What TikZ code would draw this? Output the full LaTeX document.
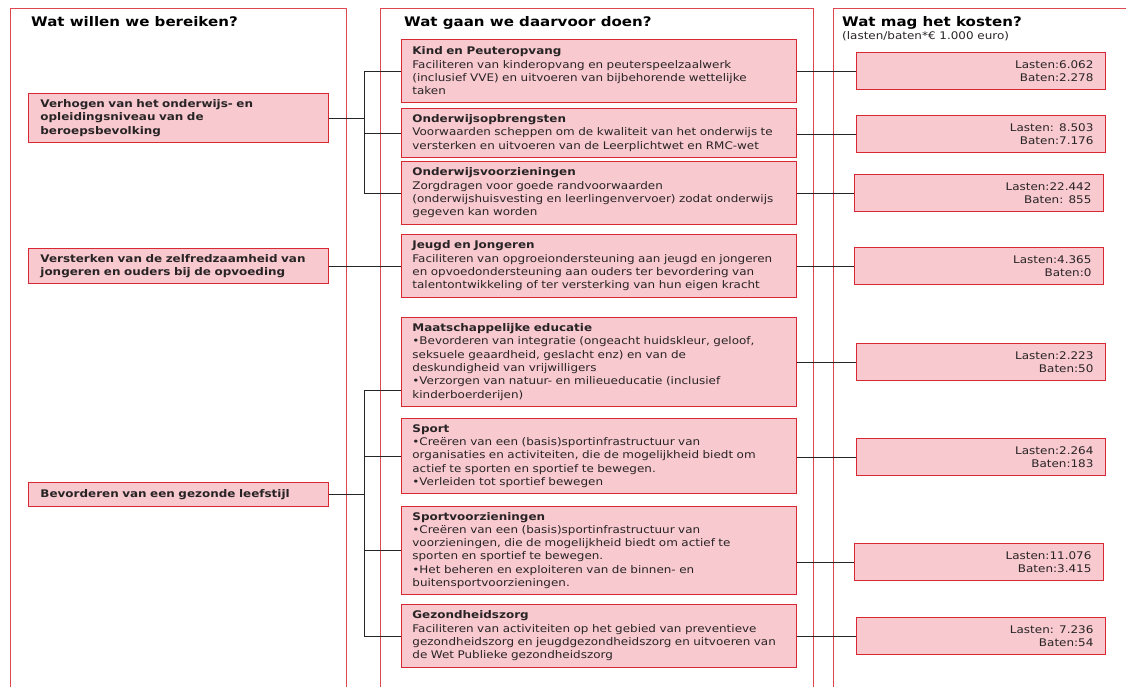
\documentclass[tikz,border=0pt]{standalone}
\usepackage{fontspec}
\setmainfont{DejaVu Sans}[FakeStretch=1.14]
\usepackage{tikz}
\usetikzlibrary{calc}
\definecolor{rood}{RGB}{216,40,52}
\definecolor{kader}{RGB}{222,70,80}
\definecolor{roze}{RGB}{248,201,206}
\definecolor{tekst}{RGB}{40,36,38}
\tikzset{
	vak/.style={draw=rood, fill=roze, line width=0.8pt, anchor=north west, text=tekst, font=\fontsize{10.5}{13.3}\selectfont},
	doel/.style={vak, minimum width=300pt, text width=276pt, inner xsep=12pt, align=left, font=\fontsize{10.5}{13.4}\selectfont\bfseries},
	actie/.style={vak, minimum width=395pt, text width=373pt, inner xsep=11pt, align=left},
	kosten/.style={vak, minimum width=249pt, minimum height=37pt, text width=225pt, inner xsep=12pt, align=right},
	kop/.style={anchor=base west, inner sep=0pt, text=black, font=\fontsize{13.2}{16}\selectfont\bfseries},
	lijn/.style={draw=black!85, line width=0.75pt}
}

\begin{document}
\begin{tikzpicture}[x=1pt, y=-1pt]
			%%%%% KADERS %%%%%
			\useasboundingbox (0, 0) rectangle (1126, 687);
			\fill[white] (0, 0) rectangle (1126, 687);
			
			\draw[kader, line width=0.8pt] (10, 8) rectangle (346, 700);
			\draw[kader, line width=0.8pt] (380, 8) rectangle (813, 700);
			\draw[kader, line width=0.8pt] (833, 8) rectangle (1140, 700);
			
			\node[kop] (kop1) at (31, 27) {Wat willen we bereiken?};
			\node[kop] (kop2) at (404, 27) {Wat gaan we daarvoor doen?};
			\node[kop] (kop3) at (842, 27) {Wat mag het kosten?};
			\node[anchor=base west, inner sep=0pt, text=tekst, font=\fontsize{10.5}{13}\selectfont] (eenheid) at (842, 40) {(lasten/baten*€ 1.000 euro)};
			
			%%%%% DOELEN %%%%%
			\node[doel, minimum height=49pt] (d1) at (28, 93) {Verhogen van het onderwijs- en\\opleidingsniveau van de\\beroepsbevolking};
			\node[doel, minimum height=35pt] (d2) at (28, 248) {Versterken van de zelfredzaamheid van\\jongeren en ouders bij de opvoeding};
			\node[doel, minimum height=24pt] (d3) at (28, 482) {Bevorderen van een gezonde leefstijl};
			
			%%%%% ACTIES %%%%%
			\node[actie, minimum height=63pt] (m1) at (401, 39) {\textbf{Kind en Peuteropvang}\\Faciliteren van kinderopvang en peuterspeelzaalwerk\\(inclusief VVE) en uitvoeren van bijbehorende wettelijke\\taken};
			\node[actie, minimum height=49pt] (m2) at (401, 108) {\textbf{Onderwijsopbrengsten}\\Voorwaarden scheppen om de kwaliteit van het onderwijs te\\versterken en uitvoeren van de Leerplichtwet en RMC-wet};
			\node[actie, minimum height=63pt] (m3) at (401, 161) {\textbf{Onderwijsvoorzieningen}\\Zorgdragen voor goede randvoorwaarden\\(onderwijshuisvesting en leerlingenvervoer) zodat onderwijs\\gegeven kan worden};
			\node[actie, minimum height=63pt] (m4) at (401, 234) {\textbf{Jeugd en Jongeren}\\Faciliteren van opgroeiondersteuning aan jeugd en jongeren\\en opvoedondersteuning aan ouders ter bevordering van\\talentontwikkeling of ter versterking van hun eigen kracht};
			\node[actie, minimum height=89pt] (m5) at (401, 317) {\textbf{Maatschappelijke educatie}\\•Bevorderen van integratie (ongeacht huidskleur, geloof,\\seksuele geaardheid, geslacht enz) en van de\\deskundigheid van vrijwilligers\\•Verzorgen van natuur- en milieueducatie (inclusief\\kinderboerderijen)};
			\node[actie, minimum height=75pt] (m6) at (401, 418) {\textbf{Sport}\\•Creëren van een (basis)sportinfrastructuur van\\organisaties en activiteiten, die de mogelijkheid biedt om\\actief te sporten en sportief te bewegen.\\•Verleiden tot sportief bewegen};
			\node[actie, minimum height=88pt] (m7) at (401, 506) {\textbf{Sportvoorzieningen}\\•Creëren van een (basis)sportinfrastructuur van\\voorzieningen, die de mogelijkheid biedt om actief te\\sporten en sportief te bewegen.\\•Het beheren en exploiteren van de binnen- en\\buitensportvoorzieningen.};
			\node[actie, minimum height=63pt] (m8) at (401, 604) {\textbf{Gezondheidszorg}\\Faciliteren van activiteiten op het gebied van preventieve\\gezondheidszorg en jeugdgezondheidszorg en uitvoeren van\\de Wet Publieke gezondheidszorg};
			
			%%%%% KOSTEN %%%%%
			\node[kosten] (k1) at (856, 52) {Lasten:6.062\\Baten:2.278};
			\node[kosten] (k2) at (856, 115) {Lasten: 8.503\\Baten:7.176};
			\node[kosten] (k3) at (854, 174) {Lasten:22.442\\Baten: 855};
			\node[kosten] (k4) at (854, 247) {Lasten:4.365\\Baten:0};
			\node[kosten] (k5) at (856, 343) {Lasten:2.223\\Baten:50};
			\node[kosten] (k6) at (856, 438) {Lasten:2.264\\Baten:183};
			\node[kosten] (k7) at (854, 543) {Lasten:11.076\\Baten:3.415};
			\node[kosten] (k8) at (856, 617) {Lasten: 7.236\\Baten:54};
			
			%%%%% LIJNEN %%%%%
			\coordinate (v1) at (364, 0);
			\coordinate (v2) at (364, 390);
			
			\draw[lijn] (d1.east) -- (d1.east -| v1);
			\draw[lijn] (m1.west -| v1) -- (m3.west -| v1);
			\foreach \m in {m1,m2,m3}
				\draw[lijn] (\m.west -| v1) -- (\m.west);
			
			\draw[lijn] (d2.east) -- (m4.west);
			
			\draw[lijn] (d3.east) -- (d3.east -| v2);
			\draw[lijn] (v2) -- (m8.west -| v2);
			\draw[lijn] (v2) -- (v2 -| m5.west);
			\foreach \m in {m6,m7,m8}
				\draw[lijn] (\m.west -| v2) -- (\m.west);
			
			\foreach \i in {1,...,8}
				\draw[lijn] (k\i.west -| m\i.east) -- (k\i.west);
			
			%%%%% EINDE %%%%%
\end{tikzpicture}
\end{document}
